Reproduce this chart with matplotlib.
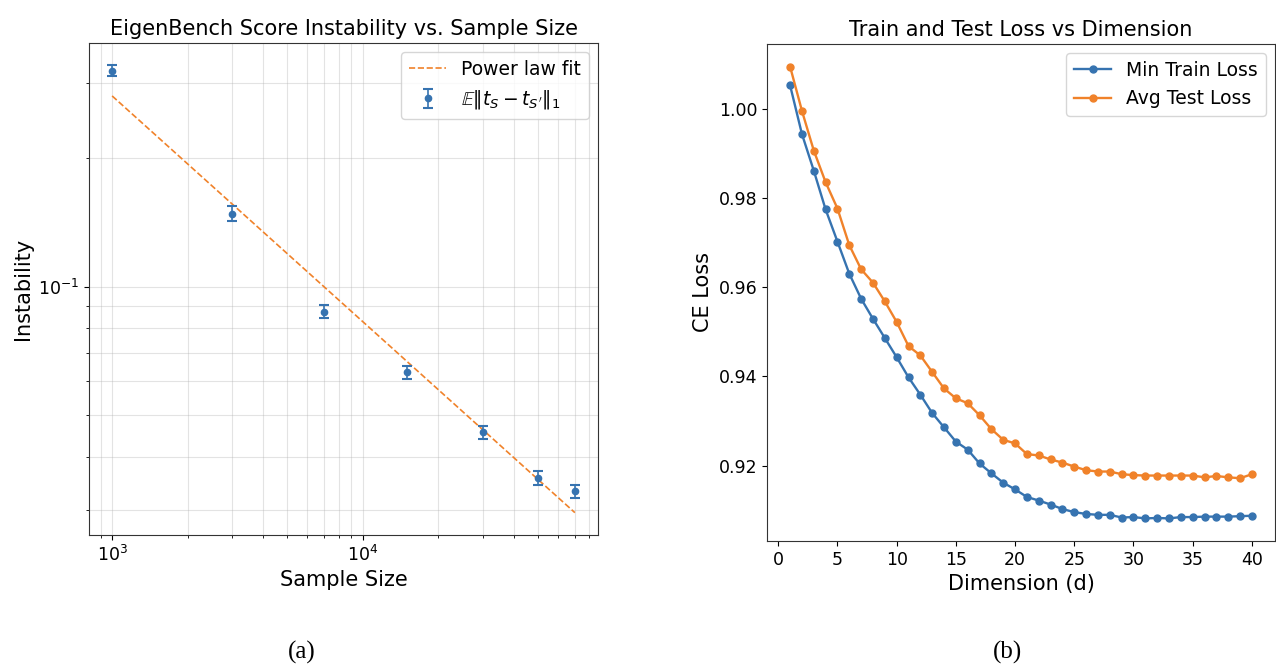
import numpy as np
import matplotlib.pyplot as plt

# left panel: instability vs sample size
sample_sizes = [1000, 3000, 7000, 15000, 30000, 50000, 70000]
instability = [0.320, 0.148, 0.0874, 0.063, 0.0456, 0.0357, 0.0332]
instability_err = [0.0093, 0.0060, 0.0031, 0.0021, 0.0015, 0.0013, 0.0012]

# right panel: losses vs dimension
dims = list(range(1, 41))
min_train_loss = [1.0052, 0.9943, 0.9861, 0.9774, 0.9702, 0.9630, 0.9574, 0.9529, 0.9486, 0.9443,
                  0.9398, 0.9359, 0.9318, 0.9286, 0.9254, 0.9236, 0.9205, 0.9183, 0.9162, 0.9147,
                  0.9130, 0.9122, 0.9113, 0.9103, 0.9096, 0.9092, 0.9090, 0.9090, 0.9084, 0.9085,
                  0.9082, 0.9083, 0.9082, 0.9085, 0.9085, 0.9086, 0.9086, 0.9086, 0.9087, 0.9088]
avg_test_loss = [1.0094, 0.9995, 0.9906, 0.9835, 0.9776, 0.9694, 0.9640, 0.9610, 0.9568, 0.9522,
                 0.9468, 0.9447, 0.9410, 0.9373, 0.9351, 0.9340, 0.9313, 0.9282, 0.9258, 0.9250,
                 0.9226, 0.9223, 0.9214, 0.9207, 0.9198, 0.9190, 0.9187, 0.9187, 0.9181, 0.9179,
                 0.9178, 0.9178, 0.9178, 0.9178, 0.9178, 0.9174, 0.9177, 0.9174, 0.9172, 0.9181]

blue = '#3673b0'
orange = '#f0822a'

fig = plt.figure(figsize=(12.76, 6.68), dpi=100)

# (a)
ax1 = fig.add_axes([89/1276, 1 - 535/668, (598 - 89)/1276, (535 - 43)/668])
slope, intercept = np.polyfit(np.log10(sample_sizes), np.log10(instability), 1)
fit_vals = 10 ** (intercept + slope * np.log10(sample_sizes))
ax1.plot(sample_sizes, fit_vals, '--', color=orange, lw=1.2, label='Power law fit')
ax1.errorbar(sample_sizes, instability, yerr=instability_err, fmt='o', color=blue,
             ms=4.5, capsize=3.6, capthick=1.5, elinewidth=1.2,
             label=r"$\mathbb{E}\|t_S - t_{S'}\|_1$")
ax1.set_xscale('log')
ax1.set_yscale('log')
ax1.grid(True, which='both', alpha=0.35)
ax1.set_xlabel('Sample Size', fontsize=15)
ax1.set_ylabel('Instability', fontsize=15)
ax1.set_title('EigenBench Score Instability vs. Sample Size', fontsize=15)
ax1.tick_params(labelsize=12.5)
ax1.legend(fontsize=13.5, loc='upper right')

# (b)
ax2 = fig.add_axes([767/1276, 1 - 541/668, (1275 - 767)/1276, (541 - 44)/668])
ax2.plot(dims, min_train_loss, 'o-', color=blue, ms=5, lw=1.7, label='Min Train Loss')
ax2.plot(dims, avg_test_loss, 'o-', color=orange, ms=5, lw=1.7, label='Avg Test Loss')
ax2.set_xlabel('Dimension (d)', fontsize=15)
ax2.set_ylabel('CE Loss', fontsize=15)
ax2.set_title('Train and Test Loss vs Dimension', fontsize=15)
ax2.tick_params(labelsize=12.5)
ax2.legend(fontsize=13.5, loc='upper right')

for ax in (ax1, ax2):
    for sp in ax.spines.values():
        sp.set_color('#333333')

fig.text(302/1276, 1 - 652/668, '(a)', family='Liberation Serif', fontsize=18,
         ha='center', va='center')
fig.text(1007/1276, 1 - 652/668, '(b)', family='Liberation Serif', fontsize=18,
         ha='center', va='center')

fig.savefig('out.png', dpi=100)
